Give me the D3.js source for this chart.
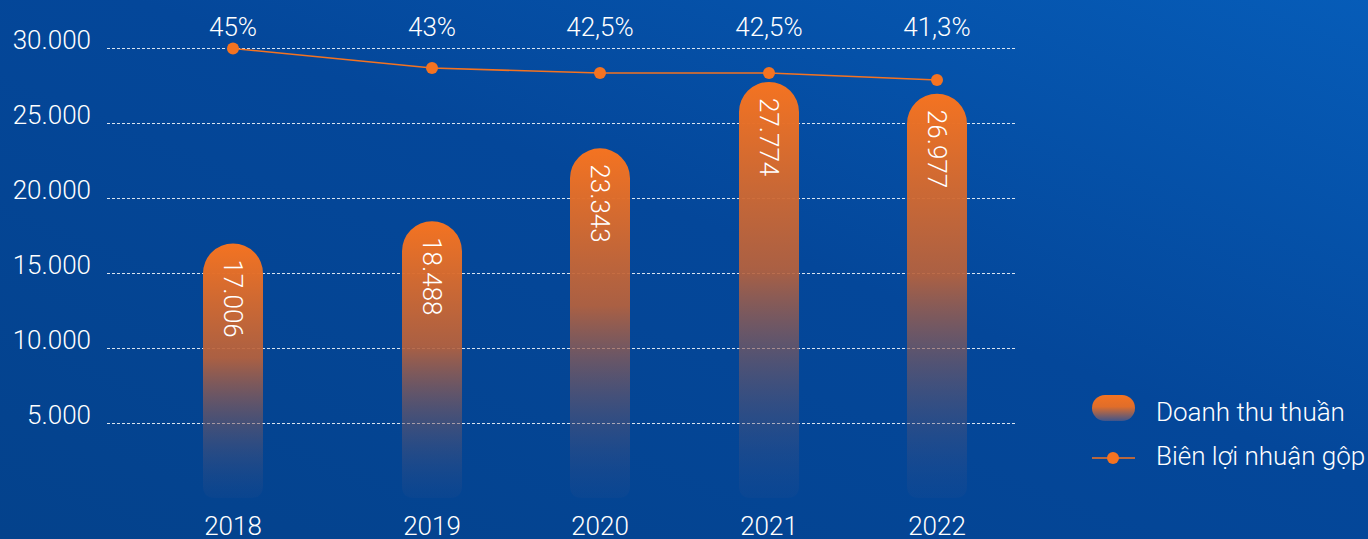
<!DOCTYPE html>
<html>
<head>
<meta charset="utf-8">
<script src="https://cdn.jsdelivr.net/npm/d3@7"></script>
<style>
  html, body { margin: 0; padding: 0; overflow: hidden; }
  svg { display: block; font-family: 'Roboto', sans-serif; }
</style>
</head>
<body>
<div id="chart"></div>
<script>
// Data
const years = ['2018', '2019', '2020', '2021', '2022'];
const revenue = [17006, 18488, 23343, 27774, 26977];
const margin = [45, 43, 42.5, 42.5, 41.3];
const marginLabels = ['45%', '43%', '42,5%', '42,5%', '41,3%'];
const yTicks = [5000, 10000, 15000, 20000, 25000, 30000];
const legendLabels = ['Doanh thu thuần', 'Biên lợi nhuận gộp'];

const W = 1368, H = 539;
const fontSize = '26px';

const svg = d3.select('#chart')
	.append('svg')
	.attr('width', W)
	.attr('height', H);

const defs = svg.append('defs');

// background gradient
const bg = defs.append('linearGradient')
	.attr('id', 'bg')
	.attr('x1', '0%').attr('y1', '100%')
	.attr('x2', '100%').attr('y2', '0%');
bg.append('stop').attr('offset', '0%').attr('stop-color', '#04428c');
bg.append('stop').attr('offset', '55%').attr('stop-color', '#04479a');
bg.append('stop').attr('offset', '100%').attr('stop-color', '#065cb8');

// bar gradient
const bg2 = defs.append('linearGradient')
	.attr('id', 'barGrad')
	.attr('x1', 0).attr('y1', 0).attr('x2', 0).attr('y2', 1);
bg2.append('stop').attr('offset', '0%').attr('stop-color', '#f47321');
bg2.append('stop').attr('offset', '45%').attr('stop-color', '#b9623c').attr('stop-opacity', 0.92);
bg2.append('stop').attr('offset', '100%').attr('stop-color', '#34508c').attr('stop-opacity', 0.12);

const legGrad = defs.append('linearGradient')
	.attr('id', 'legGrad')
	.attr('x1', 0).attr('y1', 0).attr('x2', 0).attr('y2', 1);
legGrad.append('stop').attr('offset', '0%').attr('stop-color', '#f47321');
legGrad.append('stop').attr('offset', '45%').attr('stop-color', '#e06d2a');
legGrad.append('stop').attr('offset', '100%').attr('stop-color', '#3f558c');

svg.append('rect')
	.attr('width', W)
	.attr('height', H)
	.attr('fill', 'url(#bg)');

// bars are not evenly spaced in the original
const xPos = d3.scaleOrdinal()
	.domain(years)
	.range([233, 432, 600, 769, 937]);

const y = d3.scaleLinear()
	.domain([0, 30000])
	.range([498.5, 48.5]);

// margin line is not drawn to a strict linear scale in the original
const yM = d3.scaleLinear()
	.domain([41.3, 42.5, 45])
	.range([80, 73, 48.5]);

// gridlines
svg.append('g')
	.selectAll('line')
	.data(yTicks)
	.join('line')
	.attr('x1', 107)
	.attr('x2', 1016)
	.attr('y1', (d) => y(d))
	.attr('y2', (d) => y(d))
	.attr('stroke', '#ffffff')
	.attr('stroke-opacity', 0.85)
	.attr('stroke-width', 1)
	.attr('stroke-dasharray', '3,2');

const fmt = (v) => d3.format(',')(v).replace(/,/g, '.');

// y labels
svg.append('g')
	.selectAll('text')
	.data(yTicks)
	.join('text')
	.attr('x', 91)
	.attr('y', (d) => y(d))
	.attr('text-anchor', 'end')
	.attr('fill', '#ffffff')
	.style('font-size', fontSize)
	.style('font-weight', 300)
	.text(fmt);

// bars
const barW = 60;
const bars = svg.append('g');
years.forEach((yr, i) => {
	const cx = xPos(yr);
	const top = y(revenue[i]);
	const bottom = 498;
	const r = barW / 2, rb = 12;
	const x0 = cx - barW / 2, x1 = cx + barW / 2;
	const p = d3.path();
	p.moveTo(x0, top + r);
	p.arc(cx, top + r, r, Math.PI, 0);
	p.lineTo(x1, bottom - rb);
	p.quadraticCurveTo(x1, bottom, x1 - rb, bottom);
	p.lineTo(x0 + rb, bottom);
	p.quadraticCurveTo(x0, bottom, x0, bottom - rb);
	p.closePath();
	bars.append('path')
		.attr('d', p.toString())
		.attr('fill', 'url(#barGrad)');

	bars.append('text')
		.attr('transform', `translate(${cx - 9},${top + 16}) rotate(90)`)
		.attr('fill', '#ffffff')
		.style('font-size', fontSize)
		.style('font-weight', 300)
		.text(fmt(revenue[i]));
});

// margin line
const pts = years.map((yr, i) => [xPos(yr), yM(margin[i])]);
svg.append('path')
	.attr('d', d3.line()(pts))
	.attr('fill', 'none')
	.attr('stroke', '#f47321')
	.attr('stroke-width', 1.5);

svg.append('g')
	.selectAll('circle')
	.data(pts)
	.join('circle')
	.attr('cx', (d) => d[0])
	.attr('cy', (d) => d[1])
	.attr('r', 6)
	.attr('fill', '#f47321');

// margin labels
svg.append('g')
	.selectAll('text')
	.data(years)
	.join('text')
	.attr('x', (d) => xPos(d))
	.attr('y', 36)
	.attr('text-anchor', 'middle')
	.attr('fill', '#ffffff')
	.style('font-size', fontSize)
	.style('font-weight', 300)
	.text((d, i) => marginLabels[i]);

// year labels
svg.append('g')
	.selectAll('text')
	.data(years)
	.join('text')
	.attr('x', (d) => xPos(d))
	.attr('y', 535)
	.attr('text-anchor', 'middle')
	.attr('fill', '#ffffff')
	.style('font-size', fontSize)
	.style('font-weight', 300)
	.text((d) => d);

// legend
const leg = svg.append('g');
leg.append('rect')
	.attr('x', 1092)
	.attr('y', 395)
	.attr('width', 43)
	.attr('height', 26)
	.attr('rx', 13)
	.attr('fill', 'url(#legGrad)');
leg.append('text')
	.attr('x', 1156)
	.attr('y', 421)
	.attr('fill', '#ffffff')
	.style('font-size', fontSize)
	.style('font-weight', 300)
	.text(legendLabels[0]);
leg.append('line')
	.attr('x1', 1092)
	.attr('x2', 1135)
	.attr('y1', 458)
	.attr('y2', 458)
	.attr('stroke', '#f47321')
	.attr('stroke-width', 1.5);
leg.append('circle')
	.attr('cx', 1113)
	.attr('cy', 458)
	.attr('r', 6)
	.attr('fill', '#f47321');
leg.append('text')
	.attr('x', 1156)
	.attr('y', 465)
	.attr('fill', '#ffffff')
	.style('font-size', fontSize)
	.style('font-weight', 300)
	.text(legendLabels[1]);
</script>
</body>
</html>
